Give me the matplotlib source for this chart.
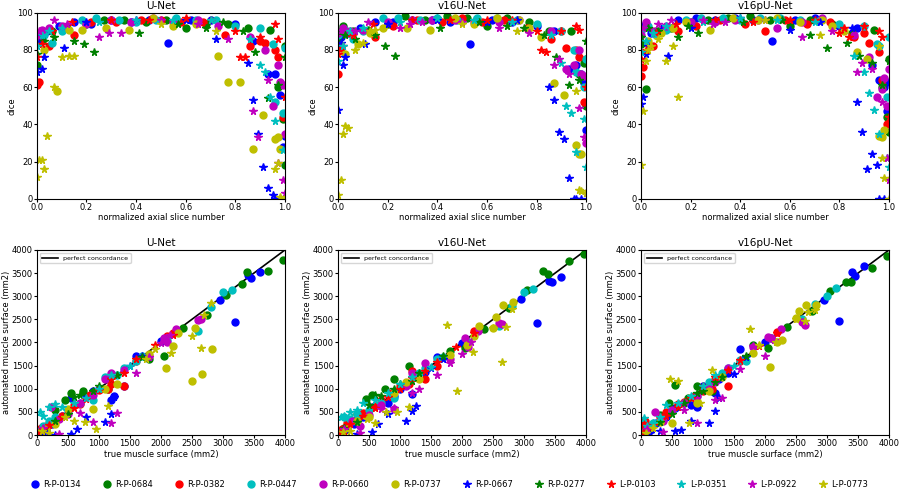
import numpy as np
import matplotlib
matplotlib.use('Agg')
import matplotlib.pyplot as plt

# -------------------------------
# series names and styles
# -------------------------------
names = ['R-P-0134', 'R-P-0684', 'R-P-0382', 'R-P-0447', 'R-P-0660', 'R-P-0737',
         'R-P-0667', 'R-P-0277', 'L-P-0103', 'L-P-0351', 'L-P-0922', 'L-P-0773']
models = ['U-Net', 'v16U-Net', 'v16pU-Net']

# -------------------------------
# dice vs normalized slice position (per series, per model)
# -------------------------------
pos = [
    [0.01, 0.04, 0.09, 0.15, 0.22, 0.30, 0.38, 0.45, 0.53, 0.62, 0.70, 0.80, 0.87, 0.93, 0.96, 0.98, 0.99, 1.0],
    [0.0, 0.02, 0.06, 0.12, 0.2, 0.27, 0.35, 0.44, 0.52, 0.6, 0.68, 0.77, 0.85, 0.94, 0.97, 0.99, 1.0, 1.0],
    [0.0, 0.01, 0.05, 0.15, 0.22, 0.32, 0.42, 0.5, 0.58, 0.67, 0.76, 0.86, 0.9, 0.92, 0.96, 0.97, 0.99],
    [0.0, 0.03, 0.06, 0.1, 0.18, 0.24, 0.33, 0.4, 0.48, 0.56, 0.64, 0.72, 0.8, 0.9, 0.95, 0.96, 0.99, 1.0],
    [0.0, 0.02, 0.05, 0.1, 0.2, 0.3, 0.38, 0.47, 0.55, 0.65, 0.73, 0.86, 0.92, 0.95, 0.97, 0.98, 0.99, 1.0],
    [0.03, 0.08, 0.13, 0.18, 0.28, 0.37, 0.47, 0.55, 0.64, 0.73, 0.77, 0.82, 0.87, 0.91, 0.96, 0.97, 0.98],
    [0.0, 0.01, 0.02, 0.03, 0.11, 0.2, 0.4, 0.6, 0.72, 0.85, 0.87, 0.89, 0.91, 0.93, 0.95, 0.96, 0.98],
    [0.0, 0.03, 0.07, 0.15, 0.19, 0.23, 0.41, 0.57, 0.68, 0.75, 0.83, 0.88, 0.93, 0.97, 1.0],
    [0.0, 0.02, 0.06, 0.14, 0.3, 0.45, 0.6, 0.7, 0.8, 0.82, 0.84, 0.9, 0.96, 0.97, 1.0],
    [0.0, 0.02, 0.05, 0.1, 0.25, 0.4, 0.55, 0.7, 0.86, 0.9, 0.92, 0.94, 0.96, 0.99, 1.0],
    [0.01, 0.07, 0.12, 0.25, 0.29, 0.34, 0.5, 0.65, 0.77, 0.87, 0.89, 0.93, 0.97, 0.99, 1.0],
    [0.0, 0.01, 0.02, 0.03, 0.04, 0.07, 0.1, 0.13, 0.15, 0.5, 0.72, 0.96, 0.97, 0.98, 1.0],
]
dice_unet = [
    [88, 90, 93, 95, 94, 96, 95, 96, 84, 96, 96, 94, 85, 67, 67, 56, 28, 34],
    [72, 86, 90, 92, 94, 96, 96, 95, 96, 92, 94, 94, 92, 91, 60, 43, 18, 82],
    [61, 63, 82, 88, 95, 95, 96, 96, 95, 95, 88, 82, 85, 84, 80, 76, 44],
    [84, 88, 84, 90, 96, 97, 96, 95, 96, 97, 96, 96, 93, 92, 83, 52, 46, 81],
    [86, 91, 92, 93, 94, 96, 95, 97, 95, 96, 93, 87, 80, 50, 72, 63, 61, 35],
    [80, 58, 91, 91, 92, 91, 97, 93, 94, 77, 63, 63, 27, 45, 32, 33, 27],
    [68, 84, 70, 76, 81, 95, 96, 96, 86, 73, 53, 35, 17, 6, 2, 0, 0],
    [78, 85, 87, 85, 83, 79, 89, 94, 92, 95, 90, 79, 54, 61, 76],
    [76, 83, 90, 95, 96, 96, 97, 96, 90, 76, 76, 87, 94, 86, 55],
    [82, 88, 90, 92, 95, 96, 96, 96, 86, 72, 68, 55, 42, 26, 46],
    [90, 96, 94, 87, 89, 89, 96, 94, 86, 47, 33, 64, 19, 10, 3],
    [12, 21, 21, 16, 34, 60, 76, 77, 77, 94, 90, 16, 19, 1, 0],
]
dice_v16 = [
    [87, 89, 92, 95, 95, 96, 96, 95, 83, 96, 95, 93, 90, 70, 72, 67, 62, 37],
    [85, 93, 90, 91, 94, 98, 96, 98, 97, 93, 97, 95, 90, 90, 67, 73, 50, 75],
    [67, 81, 89, 87, 93, 96, 95, 97, 95, 96, 92, 86, 90, 81, 80, 76, 52],
    [88, 91, 86, 90, 97, 97, 96, 97, 96, 97, 97, 96, 94, 90, 80, 68, 60, 75],
    [89, 92, 90, 91, 95, 96, 96, 96, 95, 95, 96, 90, 70, 72, 80, 67, 66, 30],
    [78, 83, 89, 92, 92, 91, 97, 94, 97, 96, 92, 87, 62, 56, 29, 24, 24],
    [48, 84, 72, 76, 83, 94, 96, 95, 96, 60, 53, 36, 32, 11, 0, 0, 0],
    [90, 88, 86, 88, 82, 77, 92, 95, 93, 92, 88, 76, 61, 64, 85],
    [78, 82, 88, 94, 96, 96, 96, 96, 90, 80, 79, 90, 93, 91, 60],
    [74, 82, 90, 92, 95, 97, 96, 95, 88, 73, 50, 46, 25, 43, 17],
    [91, 90, 95, 92, 94, 95, 95, 92, 89, 72, 75, 67, 49, 33, 3],
    [2, 10, 35, 39, 38, 80, 84, 90, 91, 94, 90, 58, 5, 4, 3],
]
dice_v16p = [
    [93, 89, 92, 96, 97, 96, 97, 96, 85, 96, 97, 93, 92, 72, 64, 60, 47, 63],
    [83, 59, 90, 92, 95, 96, 97, 98, 96, 93, 96, 94, 89, 91, 60, 44, 36, 75],
    [66, 71, 82, 90, 93, 96, 94, 90, 96, 94, 95, 87, 89, 84, 79, 64, 40],
    [90, 93, 88, 91, 96, 97, 97, 96, 97, 97, 96, 96, 94, 93, 83, 82, 55, 87],
    [88, 95, 90, 93, 95, 95, 96, 96, 92, 95, 97, 88, 76, 55, 59, 65, 50, 70],
    [85, 89, 92, 95, 91, 97, 96, 97, 95, 96, 93, 90, 79, 75, 34, 33, 37],
    [51, 55, 78, 82, 77, 92, 97, 91, 95, 92, 52, 36, 16, 24, 18, 0, 0],
    [87, 92, 90, 87, 93, 89, 95, 96, 88, 81, 84, 77, 73, 61, 74],
    [75, 80, 89, 94, 96, 95, 96, 96, 89, 92, 87, 93, 90, 87, 44],
    [79, 85, 89, 93, 95, 97, 96, 95, 77, 68, 57, 48, 35, 22, 17],
    [92, 94, 96, 96, 94, 95, 96, 87, 90, 68, 73, 70, 52, 22, 10],
    [18, 47, 74, 80, 82, 86, 74, 82, 55, 96, 88, 82, 22, 11, 0],
]

# -------------------------------
# automated vs true muscle surface (mm2)
# -------------------------------
true_area = [
    [20, 60, 150, 250, 400, 550, 800, 900, 1000, 1200, 1250, 1400, 1600, 2000, 2950, 3200, 3400, 3450, 3600],
    [30, 100, 300, 450, 550, 750, 900, 1150, 1800, 2050, 2350, 2750, 3050, 3300, 3380, 3730, 3970],
    [10, 60, 150, 300, 400, 600, 700, 850, 1000, 1150, 1200, 1400, 1600, 2100, 2200],
    [50, 100, 200, 300, 500, 700, 900, 1100, 1300, 1400, 1600, 1700, 2100, 2600, 2800, 3000, 3150],
    [60, 220, 350, 500, 700, 900, 1100, 1200, 1400, 1800, 2050, 2100, 2250, 2600, 2650],
    [40, 100, 150, 300, 500, 900, 1100, 1300, 1800, 2080, 2200, 2280, 2500, 2550, 2660, 2820],
    [50, 150, 300, 550, 650, 800, 1100, 1200, 1250, 1500, 1700],
    [100, 300, 500, 600, 700, 900, 1000, 1200, 1300, 1700],
    [30, 100, 200, 400, 600, 800, 1000, 1200, 1400, 1600, 1900, 2200],
    [50, 100, 200, 300, 400, 600, 800, 1000, 1200, 1500],
    [100, 350, 700, 900, 1200, 1300, 1600, 1800, 2000, 2150],
    [80, 200, 460, 600, 780, 950, 1150, 1760, 1910, 2170, 2500, 2650, 2700, 2800],
]
pred_unet = [
    [10, 50, 130, 240, 420, 800, 850, 950, 1000, 760, 850, 1050, 1700, 2030, 2920, 2450, 3450, 3400, 3530],
    [40, 120, 550, 760, 900, 950, 920, 1000, 1650, 1710, 2320, 2600, 3030, 3270, 3520, 3550, 3780],
    [20, 150, 200, 320, 420, 650, 680, 870, 980, 1000, 1100, 1060, 1600, 2150, 2200],
    [80, 200, 300, 400, 520, 700, 750, 1250, 1300, 1450, 1600, 1700, 2050, 2250, 2760, 3080, 3140],
    [80, 600, 350, 450, 700, 870, 1200, 1350, 1400, 1700, 2100, 2000, 2300, 2480, 2500],
    [50, 100, 130, 230, 570, 560, 1000, 1100, 1750, 1440, 1930, 2200, 1160, 2310, 1320, 1860],
    [20, 60, 0, 30, 120, 400, 280, 460, 820, 1500, 1700],
    [120, 300, 460, 830, 860, 950, 1050, 1200, 1300, 1680],
    [50, 120, 220, 400, 580, 780, 980, 1200, 1350, 1650, 1950, 2170],
    [500, 420, 600, 680, 600, 700, 800, 1000, 1300, 1500],
    [150, 30, 470, 280, 250, 470, 1350, 1680, 1980, 2170],
    [80, 50, 400, 300, 280, 120, 620, 1650, 1850, 1780, 2150, 1880, 2600, 2850],
]
pred_v16 = [
    [10, 60, 150, 230, 390, 600, 700, 850, 1000, 890, 1250, 1370, 1680, 1990, 2950, 2430, 3320, 3300, 3420],
    [50, 150, 450, 780, 870, 1000, 1220, 1500, 1820, 1870, 2300, 2740, 3140, 3550, 3480, 3760, 3920],
    [10, 130, 250, 350, 480, 620, 750, 900, 1050, 1100, 1380, 1200, 1500, 2000, 2250],
    [40, 380, 350, 450, 550, 700, 800, 1100, 1350, 1450, 1650, 1680, 2000, 2350, 2780, 3080, 3150],
    [60, 300, 200, 430, 650, 570, 1050, 1350, 1550, 1650, 2100, 1900, 2250, 2430, 2400],
    [40, 90, 140, 300, 400, 900, 1150, 1200, 1730, 1950, 2130, 2360, 2310, 2540, 2800, 2870],
    [30, 80, 20, 60, 240, 450, 310, 520, 630, 1450, 1650],
    [150, 280, 650, 870, 850, 1000, 1100, 1160, 1350, 1700],
    [40, 90, 230, 420, 590, 820, 1000, 1230, 1390, 1580, 1900, 2200],
    [390, 420, 500, 550, 700, 750, 900, 1100, 1250, 1480],
    [120, 50, 560, 580, 900, 1000, 1300, 1560, 1750, 2000],
    [60, 80, 350, 270, 490, 500, 600, 2380, 960, 1790, 2320, 1580, 2330, 2720],
]
pred_v16p = [
    [20, 60, 140, 250, 380, 580, 650, 600, 1050, 900, 1200, 1350, 1850, 2000, 2920, 2460, 3520, 3440, 3650],
    [40, 120, 440, 700, 1080, 800, 1050, 950, 1950, 1880, 2340, 2670, 3120, 3300, 3300, 3620, 3860],
    [200, 300, 200, 400, 500, 680, 720, 850, 960, 1000, 1220, 1070, 1600, 2100, 2230],
    [60, 120, 250, 300, 520, 690, 850, 1150, 1350, 1450, 1620, 1600, 2100, 2500, 2840, 3000, 3180],
    [70, 500, 300, 550, 700, 850, 1000, 1150, 1450, 1900, 2120, 2100, 2300, 2450, 2380],
    [30, 80, 150, 280, 250, 700, 950, 1250, 1780, 1480, 2000, 2050, 2530, 2670, 2800, 2820],
    [20, 50, 90, 80, 100, 300, 250, 510, 800, 1320, 1680],
    [100, 280, 450, 600, 700, 900, 950, 1150, 1250, 1700],
    [40, 110, 210, 420, 610, 800, 1050, 1250, 1400, 1620, 1920, 2200],
    [370, 200, 250, 400, 650, 700, 850, 1050, 1300, 1500],
    [130, 60, 550, 250, 760, 800, 1420, 1930, 1700, 2060],
    [50, 150, 1220, 1170, 260, 700, 1400, 2290, 1950, 2000, 2500, 2460, 2650, 2700],
]

dice_all = [dice_unet, dice_v16, dice_v16p]
pred_all = [pred_unet, pred_v16, pred_v16p]

colors = ['b', 'g', 'r', 'c', 'm', 'y', 'b', 'g', 'r', 'c', 'm', 'y']
markers = ['o'] * 6 + ['*'] * 6

plt.rcParams['font.size'] = 6

fig = plt.figure(figsize=(8.99, 4.91), dpi=100)
lefts = [0.041, 0.376, 0.713]
w = 0.276

for k, model in enumerate(models):
    # top row: dice per slice
    ax = fig.add_axes([lefts[k], 0.595, w, 0.379])
    for s in range(12):
        ax.plot(pos[s], dice_all[k][s], linestyle='', marker=markers[s],
                color=colors[s], markersize=5 if markers[s] == 'o' else 5.5,
                label=names[s])
    ax.set_xlim(0, 1)
    ax.set_ylim(0, 100)
    ax.set_title(model, fontsize=7.5, pad=3)
    ax.set_xlabel('normalized axial slice number', labelpad=1)
    ax.set_ylabel('dice', labelpad=0.5)
    ax.tick_params(length=2, pad=1)

    # bottom row: surface agreement
    ax2 = fig.add_axes([lefts[k], 0.114, w, 0.377])
    ax2.plot([0, 4000], [0, 4000], color='k', linewidth=1.2, label='perfect concordance')
    for s in range(12):
        ax2.plot(true_area[s], pred_all[k][s], linestyle='', marker=markers[s],
                 color=colors[s], markersize=5 if markers[s] == 'o' else 5.5)
    ax2.set_xlim(0, 4000)
    ax2.set_ylim(0, 4000)
    ax2.set_xticks(np.arange(0, 4001, 500))
    ax2.set_yticks(np.arange(0, 4001, 500))
    ax2.set_title(model, fontsize=7.5, pad=3)
    ax2.set_xlabel('true muscle surface (mm2)', labelpad=1)
    ax2.set_ylabel('automated muscle surface (mm2)', labelpad=0.5)
    ax2.tick_params(length=2, pad=1)
    ax2.legend(loc='upper left', fontsize=4.5, handlelength=2.5)

    if k == 0:
        handles, labels = ax.get_legend_handles_labels()

fig.legend(handles, labels, loc='center', bbox_to_anchor=(0.5, 0.014), ncol=12,
           frameon=False, fontsize=6, columnspacing=2.6, handlelength=1,
           handletextpad=0.5)

fig.savefig('out.png', dpi=100)
